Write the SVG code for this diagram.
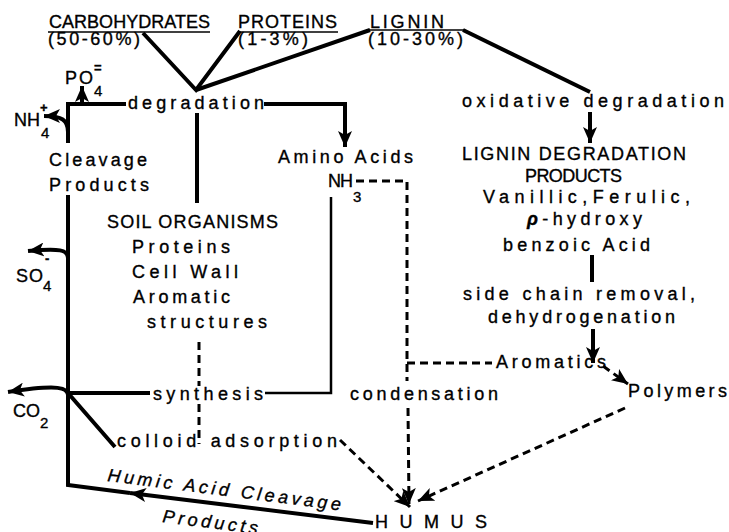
<svg xmlns="http://www.w3.org/2000/svg" width="729" height="532" viewBox="0 0 729 532">
<style>
text{font-family:"Liberation Sans","DejaVu Sans",sans-serif;font-size:18px;fill:#000;stroke:#000;stroke-width:0.35}
.sub{font-size:15px}
.sup{font-size:13px;font-weight:bold}
.it{font-style:italic}
.thick{fill:none;stroke:#000;stroke-width:4;stroke-linejoin:miter;stroke-linecap:butt}
.med{fill:none;stroke:#000;stroke-width:2.5}
.thin{fill:none;stroke:#000;stroke-width:1.5}
.dash{fill:none;stroke:#000;stroke-width:3;stroke-dasharray:8 5}
</style>
<defs>
<marker id="ah" markerUnits="userSpaceOnUse" markerWidth="18" markerHeight="14" refX="16" refY="7" orient="auto" viewBox="0 0 18 14">
<path d="M0,0 L16,7 L0,14 L4,7 Z" fill="#000"/>
</marker>
</defs>
<rect width="729" height="532" fill="#fff"/>

<g id="connectors">
<path class="thick" d="M143,33 L196,90 L240,31"/>
<path class="thick" d="M196,90 L370,30"/>
<path class="thick" d="M463,30 L590,92"/>
<path class="thick" d="M126,104 L68,104 L68,143"/>
<path class="thick" d="M264,104 L345,104 L345,147" marker-end="url(#ah)"/>
<path class="thick" d="M82,104 L82,86" marker-end="url(#ah)"/>
<path class="thick" d="M68,132 C68,120 62,116 44,116" marker-end="url(#ah)"/>
<path class="thick" d="M197,113 L197,203"/>
<path class="thick" d="M68,195 L68,485 L130,493"/>
<path class="thick" d="M373,523 L130,493" marker-end="url(#ah)"/>
<path class="thick" d="M68,258 C68,250 60,248 28,251" marker-end="url(#ah)"/>
<path class="thick" d="M68,395 C68,388 60,384 8,392" marker-end="url(#ah)"/>
<path class="thick" d="M150,393 L68,393 L115,447"/>
<path class="med" d="M265,393 L331,393 L331,197"/>
<path class="dash" d="M199,342 L199,386"/>
<path class="dash" d="M199,404 L199,444"/>
<path class="dash" d="M356,181 L407,181 L407,381"/>
<path class="dash" d="M407,363 L492,363"/>
<path class="dash" d="M408,408 L409,504" marker-end="url(#ah)"/>
<path class="dash" d="M340,440 L410,507" marker-end="url(#ah)"/>
<path class="thick" d="M590,112 L590,143" marker-end="url(#ah)"/>
<path class="thick" d="M592,255 L592,282"/>
<path class="thick" d="M593,329 L593,363" marker-end="url(#ah)"/>
<path class="dash" d="M603,366 L628,384" marker-end="url(#ah)"/>
<path class="dash" d="M625,408 L418,501" marker-end="url(#ah)"/>
</g>

<g id="carbohydrates">
<text x="49" y="28" textLength="161" lengthAdjust="spacing">CARBOHYDRATES</text>
<line class="thin" x1="48" y1="32" x2="210" y2="32"/>
<text x="48" y="45" textLength="92" lengthAdjust="spacing">(50-60%)</text>
</g>
<g id="proteins">
<text x="238" y="28" textLength="99" lengthAdjust="spacing">PROTEINS</text>
<line class="thin" x1="238" y1="32" x2="338" y2="32"/>
<text x="238" y="45" textLength="70" lengthAdjust="spacing">(1-3%)</text>
</g>
<g id="lignin">
<text x="370" y="28" textLength="74" lengthAdjust="spacing">LIGNIN</text>
<line class="thin" x1="366" y1="30" x2="464" y2="30"/>
<text x="368" y="45" textLength="95" lengthAdjust="spacing">(10-30%)</text>
</g>
<g id="degradation">
<text x="128" y="109" textLength="136" lengthAdjust="spacing">degradation</text>
</g>
<g id="po4">
<text x="65" y="84" textLength="28" lengthAdjust="spacing">PO</text>
<text class="sub" x="94" y="96">4</text>
<text class="sup" x="94" y="72">=</text>
</g>
<g id="nh4">
<text x="14" y="126" textLength="26" lengthAdjust="spacing">NH</text>
<text class="sup" x="40" y="112">+</text>
<text class="sub" x="41" y="138">4</text>
</g>
<g id="cleavage-products">
<text x="49" y="166" textLength="98" lengthAdjust="spacing">Cleavage</text>
<text x="49" y="191" textLength="100" lengthAdjust="spacing">Products</text>
</g>
<g id="soil-organisms">
<text x="107" y="228" textLength="171" lengthAdjust="spacing">SOIL ORGANISMS</text>
<text x="132" y="253" textLength="98" lengthAdjust="spacing">Proteins</text>
<text x="132" y="278" textLength="106" lengthAdjust="spacing">Cell Wall</text>
<text x="133" y="303" textLength="97" lengthAdjust="spacing">Aromatic</text>
<text x="147" y="328" textLength="120" lengthAdjust="spacing">structures</text>
</g>
<g id="so4">
<text x="16" y="282" textLength="27" lengthAdjust="spacing">SO</text>
<text class="sup" x="45" y="263">-</text>
<text class="sub" x="43" y="291">4</text>
</g>
<g id="amino-acids">
<text x="278" y="163" textLength="135" lengthAdjust="spacing">Amino Acids</text>
</g>
<g id="nh3">
<text x="328" y="187" textLength="25" lengthAdjust="spacing">NH</text>
<text class="sub" x="353" y="202">3</text>
</g>
<g id="synthesis">
<text x="153" y="400" textLength="110" lengthAdjust="spacing">synthesis</text>
</g>
<g id="co2">
<text x="13" y="417" textLength="27" lengthAdjust="spacing">CO</text>
<text class="sub" x="40" y="428">2</text>
</g>
<g id="colloid-adsorption">
<text x="117" y="447" textLength="220" lengthAdjust="spacing">colloid adsorption</text>
</g>
<g id="condensation">
<text x="350" y="400" textLength="148" lengthAdjust="spacing">condensation</text>
</g>
<g id="oxidative-degradation">
<text x="462" y="107" textLength="262" lengthAdjust="spacing">oxidative degradation</text>
</g>
<g id="lignin-degradation-products">
<text x="462" y="160" textLength="224" lengthAdjust="spacing">LIGNIN DEGRADATION</text>
<text x="525" y="182" textLength="97" lengthAdjust="spacing">PRODUCTS</text>
<text x="483" y="203" textLength="207" lengthAdjust="spacing">Vanillic,Ferulic,</text>
<text x="527" y="225" textLength="115" lengthAdjust="spacing"><tspan font-weight="bold" font-style="italic">ρ</tspan>-hydroxy</text>
<text x="503" y="251" textLength="147" lengthAdjust="spacing">benzoic Acid</text>
</g>
<g id="side-chain-removal">
<text x="463" y="300" textLength="232" lengthAdjust="spacing">side chain removal,</text>
<text x="488" y="323" textLength="187" lengthAdjust="spacing">dehydrogenation</text>
</g>
<g id="aromatics">
<text x="496" y="368" textLength="110" lengthAdjust="spacing">Aromatics</text>
</g>
<g id="polymers">
<text x="628" y="397" textLength="99" lengthAdjust="spacing">Polymers</text>
</g>
<g id="humus">
<text x="375" y="528" textLength="112" lengthAdjust="spacing">H U M U S</text>
</g>
<g id="humic-acid-cleavage-products">
<text class="it" transform="translate(107,481) rotate(7.2)" textLength="235" lengthAdjust="spacing">Humic Acid Cleavage</text>
<text class="it" transform="translate(162,522) rotate(7.2)" textLength="96" lengthAdjust="spacing">Products</text>
</g>
</svg>
